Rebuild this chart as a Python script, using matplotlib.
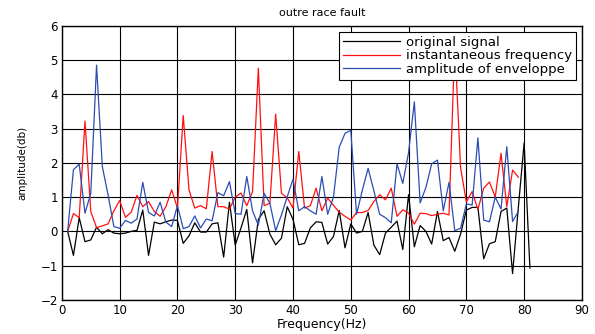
import numpy as np
import matplotlib
matplotlib.use("Agg")
import matplotlib.pyplot as plt

plt.rcParams["font.family"] = ["DejaVu Sans"]

# frequency bins [Hz]
freq_orig = np.arange(1, 82)
freq_env = np.arange(1, 80)

# original signal
orig_signal = [
    0.0, -0.7, 0.4, -0.3, -0.25, 0.12, -0.07, 0.05, -0.05, -0.07,
    -0.05, 0.0, 0.03, 0.62, -0.7, 0.27, 0.22, 0.28, 0.33, 0.32,
    -0.35, -0.13, 0.25, -0.02, -0.02, 0.22, 0.25, -0.75, 0.85, -0.4,
    0.1, 0.64, -0.92, 0.35, 0.6, -0.08, -0.39, -0.2, 0.72, 0.35,
    -0.39, -0.35, 0.1, 0.28, 0.26, -0.37, -0.15, 0.61, -0.48, 0.22,
    -0.05, 0.0, 0.55, -0.4, -0.68, -0.05, 0.12, 0.3, -0.53, 1.07,
    -0.45, 0.17, 0.0, -0.37, 0.58, -0.27, -0.18, -0.58, -0.08, 0.62,
    0.7, 0.7, -0.8, -0.36, -0.3, 0.58, 0.68, -1.23, 0.7, 2.58,
    -1.07,
]

# instantaneous frequency
inst_freq = [
    0.0, 0.52, 0.4, 3.22, 0.58, 0.11, 0.16, 0.22, 0.6, 0.9,
    0.41, 0.56, 1.05, 0.72, 0.87, 0.58, 0.44, 0.72, 1.21, 0.68,
    3.38, 1.21, 0.68, 0.75, 0.66, 2.33, 0.72, 0.72, 0.65, 1.0,
    1.12, 0.75, 1.16, 4.76, 0.75, 0.82, 3.42, 1.11, 0.98, 0.68,
    2.33, 0.68, 0.75, 1.26, 0.6, 0.97, 0.76, 0.56, 0.44, 0.33,
    0.55, 0.55, 0.61, 0.87, 1.07, 0.92, 1.26, 0.44, 0.63, 0.53,
    0.21, 0.53, 0.52, 0.46, 0.5, 0.53, 0.48, 5.5, 1.86, 0.86,
    1.16, 0.64, 1.26, 1.44, 1.0, 2.28, 0.72, 1.79, 1.58,
]

# amplitude of envelope
env_amp = [
    0.0, 1.8, 1.96, 0.53, 1.11, 4.85, 1.89, 1.06, 0.14, 0.09,
    0.32, 0.24, 0.36, 1.43, 0.55, 0.45, 0.85, 0.27, 0.14, 0.75,
    0.08, 0.14, 0.45, 0.1, 0.36, 0.31, 1.13, 1.04, 1.45, 0.52,
    0.5, 1.6, 0.6, 0.18, 1.11, 0.82, 0.02, 0.48, 1.01, 1.52,
    0.6, 0.72, 0.6, 0.5, 1.6, 0.5, 1.0, 2.46, 2.86, 2.95,
    0.5, 1.2, 1.84, 1.18, 0.5, 0.4, 0.25, 1.97, 1.4, 2.3,
    3.78, 0.83, 1.28, 1.97, 2.08, 0.6, 1.43, 0.02, 0.09, 0.8,
    0.77, 2.73, 0.33, 0.28, 1.0, 0.65, 2.47, 0.29, 0.58,
]

fig = plt.figure(figsize=(5.95, 3.34), dpi=100)
ax = fig.add_axes([0.104, 0.102, 0.874, 0.821])

ax.plot(freq_orig, orig_signal, color="black", lw=0.9, label="original signal")
ax.plot(freq_env, inst_freq, color="#ff1010", lw=0.9, label="instantaneous frequency")
ax.plot(freq_env, env_amp, color="#2a4db5", lw=0.9, label="amplitude of enveloppe")

ax.set_xlim(0, 90)
ax.set_ylim(-2, 6)
ax.set_xticks(np.arange(0, 91, 10))
ax.set_yticks(np.arange(-2, 7, 1))
ax.grid(True, color="black", lw=0.8, ls="-")
ax.tick_params(direction="in", length=0, labelsize=8.5, pad=3)
for s in ax.spines.values():
    s.set_linewidth(1.0)

ax.set_title("outre race fault", fontsize=8, pad=7)
ax.set_xlabel("Frequency(Hz)", fontsize=9, labelpad=1)
ax.set_ylabel("amplitude(db)", fontsize=7.5, labelpad=9)

leg = ax.legend(loc="upper right", fontsize=9.5, handlelength=4.3,
                handletextpad=0.45, fancybox=False, framealpha=1,
                edgecolor="black", borderpad=0.3, labelspacing=0.05,
                borderaxespad=0.45)
leg.get_frame().set_linewidth(0.8)

fig.savefig("out.png", dpi=100)
